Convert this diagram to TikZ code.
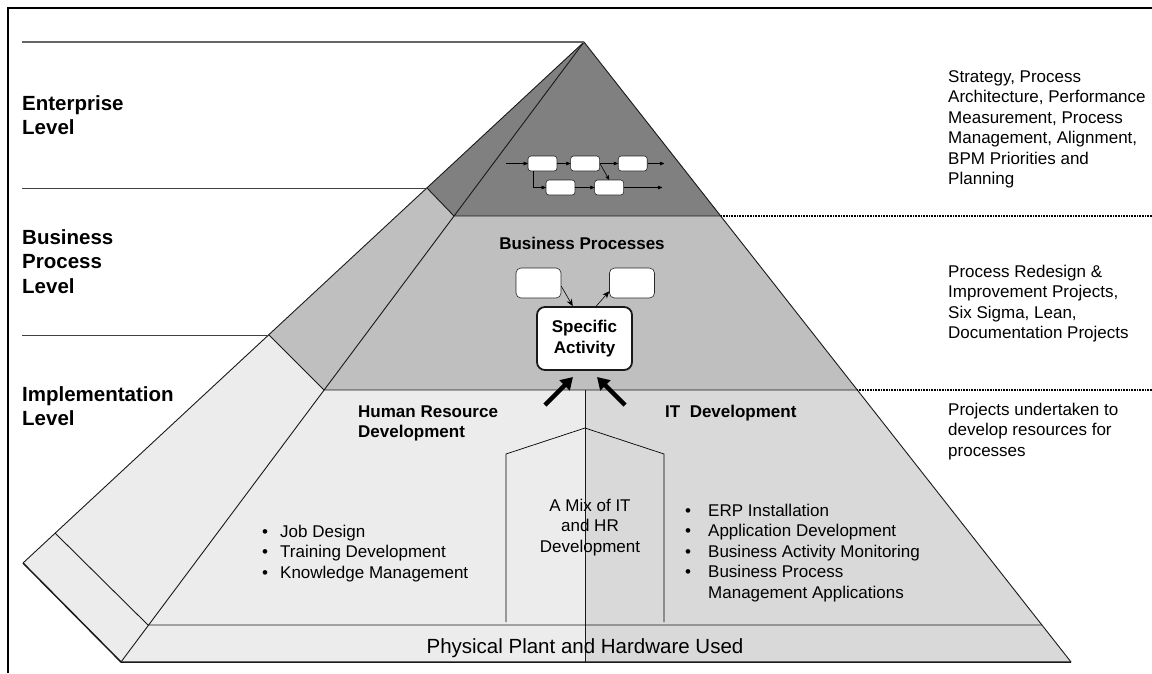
\documentclass[tikz,border=0pt]{standalone}
\usepackage{fontspec}
\setmainfont{Liberation Sans}
\usetikzlibrary{arrows,arrows.meta,positioning}

\definecolor{entgray}{gray}{0.5}
\definecolor{bpgray}{gray}{0.75}
\definecolor{impllight}{gray}{0.925}
\definecolor{implmid}{gray}{0.85}

\begin{document}
\begin{tikzpicture}
[x=1pt,y=-1pt,
lvltext/.style={font=\fontsize{20.5}{24.5}\selectfont\bfseries,align=left,anchor=base west,inner sep=0pt},
note/.style={font=\fontsize{17}{20.5}\selectfont,align=left,anchor=base west,inner sep=0pt},
head/.style={font=\fontsize{17}{20.5}\selectfont\bfseries,align=left,anchor=base west,inner sep=0pt},
pbox/.style={rectangle,rounded corners=3pt,draw=black!85,fill=white,semithick,
inner sep=0pt,minimum width=29pt,minimum height=15pt},
bpbox/.style={pbox,rounded corners=5pt,minimum width=45pt,minimum height=30pt},
actbox/.style={rectangle,rounded corners=8pt,draw=black!90,fill=white,line width=1.8pt,
minimum width=95pt,minimum height=63pt,align=center,font=\fontsize{17}{20.5}\selectfont\bfseries},
face/.style={draw=black!90,line width=0.9pt,line join=round},
guide/.style={draw=black!75,line width=0.8pt},
dots/.style={line width=1.6pt,dash pattern=on 1pt off 0.6pt},
flow/.style={->,>=stealth',semithick},
bpflow/.style={-{Stealth[length=7pt,width=6pt]},semithick},
big/.style={-{Triangle[length=12pt,width=14pt]},line width=4.5pt}]

\useasboundingbox (0,0) rectangle (1152,673);

% corners of the pyramid
\coordinate (apex) at (584,42);
\coordinate (s1) at (427,188);
\coordinate (s2) at (269,335);
\coordinate (s3) at (55,533);
\coordinate (s4) at (23,563);
\coordinate (f1) at (454,216);
\coordinate (f2) at (324,390);
\coordinate (f3) at (148,625);
\coordinate (f4) at (121,662);
\coordinate (r1) at (721,216);
\coordinate (r2) at (857,390);
\coordinate (r3) at (1042,625);
\coordinate (r4) at (1071,662);
\coordinate (d2) at (585,390);
\coordinate (d4) at (585,662);
\coordinate (gl) at (22,0);
\coordinate (gr) at (1152,0);

% side faces
\fill[entgray] (apex) -- (s1) -- (f1) -- cycle;
\fill[bpgray] (s1) -- (s2) -- (f2) -- (f1) -- cycle;
\fill[impllight] (s2) -- (s4) -- (f4) -- (f2) -- cycle;
% front faces
\fill[entgray] (apex) -- (f1) -- (r1) -- cycle;
\fill[bpgray] (f1) -- (r1) -- (r2) -- (f2) -- cycle;
\fill[impllight] (f2) -- (d2) -- (d4) -- (f4) -- cycle;
\fill[implmid] (d2) -- (r2) -- (r4) -- (d4) -- cycle;

\draw[face] (apex) -- (s4);
\draw[face] (apex) -- (f4);
\draw[face] (apex) -- (r4);
\draw[face] (s1) -- (f1) -- (r1);
\draw[face] (s2) -- (f2) -- (r2);
\draw[face] (s3) -- (f3) -- (r3);
\draw[face,line width=1.5pt] (s4) -- (f4) -- (r4);
\draw[face,line width=0.7pt] (d2) -- (d4);

% level guides
\draw[guide,draw=black!60,line width=1.5pt] (apex) -- (apex -| gl);
\draw[guide] (s1) -- (s1 -| gl);
\draw[guide] (s2) -- (s2 -| gl);
\draw[dots] (r1) -- (r1 -| gr);
\draw[dots] (r2) -- (r2 -| gr);

% frame
\draw[line width=1.6pt] (8,673) -- (8,8) -- (1152,8);

% mixed development
\draw[line width=0.7pt] (506,622) -- (506,454) -- (585,428) -- (664,454) -- (664,622);

% multi-line texts: base = last line
\node[lvltext] (entlbl) at (22,134.5) {Enterprise\\Level};
\node[lvltext] (bplbl) at (22,293) {Business\\Process\\Level};
\node[lvltext] (impllbl) at (22,425.5) {Implementation\\Level};

\node[note] (entnote) at (948,184.5) {Strategy, Process\\Architecture, Performance\\Measurement, Process\\Management, Alignment,\\BPM Priorities and\\Planning};
\node[note] (bpnote) at (948,338.5) {Process Redesign \&\\Improvement Projects,\\Six Sigma, Lean,\\Documentation Projects};
\node[note] (implnote) at (948,456) {Projects undertaken to\\develop resources for\\processes};

\node[head] (hrlbl) at (358,437.5) {Human Resource\\Development};
\node[head] (itlbl) at (665,417) {IT\ \ Development};
\node[head,anchor=base] (bptitle) at (582,249) {Business Processes};
\node[note,align=center,anchor=base] (mix) at (590,552) {A Mix of IT\\and HR\\Development};
\node[note] (hrlist) at (262,578) {\makebox[18pt][l]{\textbullet}Job Design\\
\makebox[18pt][l]{\textbullet}Training Development\\
\makebox[18pt][l]{\textbullet}Knowledge Management};
\node[note] (itlist) at (685,598) {\makebox[23pt][l]{\textbullet}ERP Installation\\
\makebox[23pt][l]{\textbullet}Application Development\\
\makebox[23pt][l]{\textbullet}Business Activity Monitoring\\
\makebox[23pt][l]{\textbullet}Business Process\\
\hspace*{23pt}Management Applications};
\node[note,font=\fontsize{20.5}{24}\selectfont,anchor=base] (plant) at (585,653) {Physical Plant and Hardware Used};

% enterprise processes
\node[pbox] (e1) at (542.5,163.5) {};
\node[pbox] (e2) [right=13pt of e1] {};
\node[pbox] (e3) [right=18pt of e2] {};
\node[pbox] (e4) at (560.5,187.5) {};
\node[pbox] (e5) [right=19pt of e4] {};
\coordinate (ein) at (506,163.5);
\coordinate (eout1) at (664,163.5);
\coordinate (eout2) at (662,187.5);
\draw[flow] (ein) -- (e1);
\draw[flow] (e1) -- (e2);
\draw[flow] (e2) -- (e3);
\draw[flow] (e3) -- (eout1);
\draw[flow] ([xshift=-9.5pt]e1.south) |- (e4);
\draw[flow] (e4) -- (e5);
\draw[flow] (e5) -- (eout2);
\draw[flow] (e2.east) -- (e5.north);

% business processes
\node[bpbox] (bp1) at (538.5,283) {};
\node[bpbox] (bp2) at (632,283) {};
\node[actbox] (act) at (584.5,338.5) {Specific\\Activity};
\draw[bpflow] (bp1.-8) -- (act.110);
\draw[bpflow] (act.70) -- (bp2.200);

\coordinate (hrtail) at (545,405);
\coordinate (hrtip) at (573,377);
\coordinate (ittail) at (625,405);
\coordinate (ittip) at (597,377);
\draw[big] (hrtail) -- (hrtip);
\draw[big] (ittail) -- (ittip);

\end{tikzpicture}
\end{document}
